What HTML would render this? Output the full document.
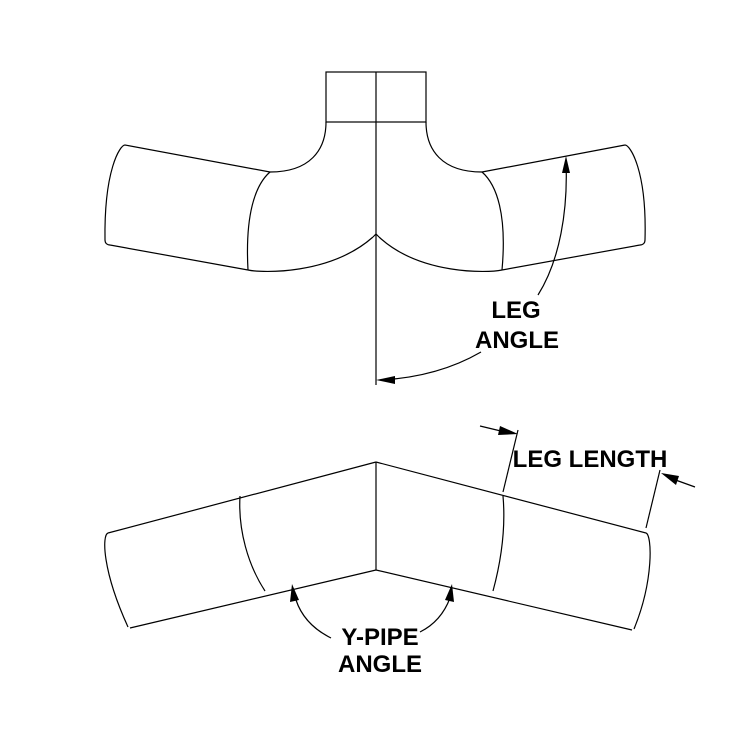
<!DOCTYPE html>
<html><head><style>
html,body{margin:0;padding:0;background:#fff;}
svg{display:block;}
text{font-family:"Liberation Sans",sans-serif;font-weight:bold;font-size:24px;fill:#000;}
</style></head><body>
<svg width="750" height="750" viewBox="0 0 750 750">
<g fill="none" stroke="#000" stroke-width="1.2">
<rect x="326" y="72" width="100" height="50"/>
<line x1="376" y1="72" x2="376" y2="385"/>
<path d="M326,122 C326,150 310,172 270,172"/>
<line x1="270" y1="172" x2="125" y2="145"/>
<path d="M125,145 C120,145 104,170 105,240 C105,243 107,245 110,245"/>
<line x1="110" y1="245" x2="248" y2="270"/>
<path d="M270,172 C255,185 245,215 248,270"/>
<path d="M248,270 C262,273 330,275 373,237"/>
<path d="M426,122 C426,150 442,172 482,172"/>
<line x1="482" y1="172" x2="625" y2="145"/>
<path d="M625,145 C630,145 647,170 645,240 C645,243 643,245 640,245"/>
<line x1="640" y1="245" x2="502" y2="270"/>
<path d="M482,172 C497,185 507,215 502,270"/>
<path d="M502,270 C488,273 420,275 379,237"/>
<path d="M373,237 L376,234 L379,237"/>
<path d="M566,162 C568,210 560,260 538,295"/>
<path d="M481,352 C450,370 415,378 382,380"/>
<line x1="376" y1="462" x2="376" y2="570"/>
<line x1="376" y1="462" x2="108" y2="533"/>
<line x1="376" y1="570" x2="130" y2="628"/>
<path d="M108,533 C102,535 102,570 128,627"/>
<path d="M240,496 C238,530 248,565 265,591"/>
<line x1="376" y1="462" x2="646" y2="533"/>
<line x1="376" y1="570" x2="632" y2="630"/>
<path d="M646,533 C652,535 654,580 634,629"/>
<path d="M503,496 C506,530 500,565 493,591"/>
<line x1="503" y1="492" x2="518" y2="430"/>
<line x1="646" y1="528" x2="660" y2="470"/>
<line x1="480" y1="426" x2="505" y2="432"/>
<line x1="670" y1="478" x2="695" y2="487"/>
<path d="M296,600 C302,618 315,630 331,638"/>
<path d="M450,598 C444,614 434,625 420,632"/>
</g>
<g fill="#000">
<polygon points="566,156 562,173 570,173"/>
<polygon points="376,380 395,376 395,384"/>
<polygon points="518,434 500,426 498,435"/>
<polygon points="661,473 679,476 676,485"/>
<polygon points="292,584 290,602 299,600"/>
<polygon points="452,584 445,600 454,602"/>
</g>
<text x="516" y="318" text-anchor="middle">LEG</text>
<text x="517" y="348" text-anchor="middle">ANGLE</text>
<text x="590" y="467" text-anchor="middle">LEG LENGTH</text>
<text x="380" y="645" text-anchor="middle">Y-PIPE</text>
<text x="380" y="672" text-anchor="middle">ANGLE</text>
</svg>
</body></html>
